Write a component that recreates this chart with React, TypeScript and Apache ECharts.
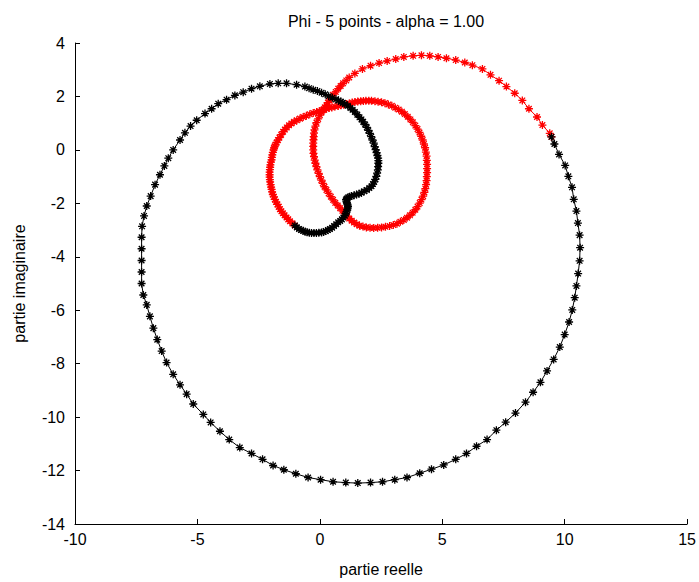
import React, { useEffect, useRef } from "react";
import * as echarts from "echarts";

const TITLE = "Phi - 5 points - alpha = 1.00";
const X_NAME = "partie reelle";
const Y_NAME = "partie imaginaire";
const X_MIN = -10, X_MAX = 15, X_STEP = 5;
const Y_MIN = -14, Y_MAX = 4, Y_STEP = 2;

// red part of the curve: left loop, top band, right loop, big upper arc
const redCurve: [number, number][] = [
  [-1.02,-2.83],[-1.12,-2.75],[-1.22,-2.67],[-1.29,-2.60],[-1.36,-2.53],[-1.44,-2.45],[-1.51,-2.37],[-1.57,-2.30],
  [-1.63,-2.22],[-1.68,-2.13],[-1.73,-2.04],[-1.79,-1.95],[-1.84,-1.85],[-1.88,-1.76],[-1.92,-1.67],[-1.95,-1.57],
  [-1.97,-1.48],[-1.99,-1.39],[-2.01,-1.30],[-2.03,-1.20],[-2.04,-1.11],[-2.05,-1.02],[-2.05,-0.93],[-2.05,-0.83],
  [-2.04,-0.74],[-2.03,-0.65],[-2.02,-0.56],[-2.00,-0.46],[-1.97,-0.37],[-1.96,-0.28],[-1.94,-0.19],[-1.92,-0.09],
  [-1.89,0.00],[-1.87,0.07],[-1.84,0.14],[-1.81,0.20],[-1.77,0.27],[-1.71,0.37],[-1.65,0.46],[-1.58,0.57],
  [-1.50,0.68],[-1.43,0.76],[-1.35,0.84],[-1.26,0.92],[-1.16,0.99],[-1.05,1.05],[-0.94,1.11],[-0.81,1.17],
  [-0.68,1.23],[-0.55,1.28],[-0.41,1.33],[-0.27,1.38],[-0.13,1.42],[-0.02,1.45],[0.08,1.48],[0.18,1.51],
  [0.27,1.54],[0.38,1.57],[0.49,1.59],[0.62,1.62],[0.75,1.64],[0.87,1.67],[0.98,1.69],[1.09,1.72],[1.20,1.74],
  [1.32,1.77],[1.43,1.79],[1.55,1.81],[1.67,1.82],[1.78,1.83],[1.88,1.84],[2.00,1.84],[2.11,1.84],[2.25,1.82],
  [2.38,1.80],[2.52,1.78],[2.66,1.75],[2.80,1.70],[2.94,1.65],[3.08,1.58],[3.22,1.51],[3.35,1.43],[3.47,1.34],
  [3.59,1.24],[3.70,1.14],[3.80,1.03],[3.90,0.91],[3.99,0.78],[4.07,0.65],[4.14,0.51],[4.20,0.37],[4.25,0.22],
  [4.30,0.08],[4.33,-0.08],[4.36,-0.23],[4.37,-0.39],[4.38,-0.54],[4.38,-0.70],[4.38,-0.85],[4.37,-1.00],
  [4.36,-1.15],[4.34,-1.30],[4.31,-1.45],[4.27,-1.59],[4.22,-1.73],[4.15,-1.86],[4.08,-1.99],[3.99,-2.12],
  [3.90,-2.24],[3.79,-2.35],[3.68,-2.45],[3.56,-2.54],[3.43,-2.62],[3.29,-2.69],[3.15,-2.76],[3.00,-2.81],
  [2.85,-2.85],[2.68,-2.88],[2.52,-2.90],[2.36,-2.91],[2.20,-2.92],[2.05,-2.91],[1.90,-2.90],[1.76,-2.87],
  [1.62,-2.84],[1.51,-2.78],[1.40,-2.72],[1.30,-2.65],[1.20,-2.57],[1.11,-2.48],[1.02,-2.38],[0.92,-2.28],
  [0.83,-2.18],[0.73,-2.08],[0.63,-1.98],[0.54,-1.87],[0.45,-1.75],[0.36,-1.63],[0.27,-1.50],[0.19,-1.38],
  [0.12,-1.25],[0.06,-1.13],[0.00,-1.00],[-0.05,-0.88],[-0.10,-0.75],[-0.14,-0.63],[-0.18,-0.50],[-0.21,-0.38],
  [-0.24,-0.25],[-0.26,-0.13],[-0.27,0.00],[-0.27,0.13],[-0.27,0.25],[-0.26,0.38],[-0.25,0.50],[-0.24,0.63],
  [-0.22,0.75],[-0.18,0.89],[-0.14,1.02],[-0.07,1.16],[0.00,1.30],[0.07,1.40],[0.14,1.50],[0.20,1.59],
  [0.27,1.67],[0.33,1.77],[0.40,1.86],[0.47,1.96],[0.54,2.06],[0.65,2.17],[0.75,2.29],[0.85,2.39],[0.95,2.49],
  [1.08,2.60],[1.20,2.71],[1.43,2.86],[1.74,3.03],[2.07,3.15],[2.42,3.25],[2.75,3.33],[3.10,3.40],[3.43,3.48],
  [3.81,3.52],[4.15,3.54],[4.49,3.52],[4.83,3.48],[5.17,3.43],[5.55,3.36],[5.92,3.27],[6.23,3.17],[6.64,3.03],
  [6.97,2.81],[7.32,2.59],[7.62,2.37],[7.96,2.12],[8.27,1.85],[8.54,1.54],[8.87,1.23],[9.09,0.93],[9.39,0.62],
  [9.46,0.49]
];

// black part of the curve: big loop, inner arc and knot
const blackCurve: [number, number][] = [
  [9.46,0.49],[9.58,0.22],[9.77,-0.17],[10.02,-0.58],[10.15,-0.99],[10.30,-1.40],[10.37,-1.85],[10.48,-2.29],
  [10.54,-2.74],[10.61,-3.19],[10.63,-3.66],[10.61,-4.15],[10.55,-4.63],[10.48,-5.09],[10.41,-5.53],[10.31,-5.99],
  [10.18,-6.44],[10.00,-6.91],[9.80,-7.38],[9.55,-7.84],[9.28,-8.27],[9.01,-8.70],[8.71,-9.07],[8.40,-9.44],
  [7.99,-9.85],[7.59,-10.19],[7.21,-10.49],[6.83,-10.84],[6.40,-11.09],[5.99,-11.36],[5.55,-11.58],[5.06,-11.79],
  [4.56,-11.95],[4.08,-12.10],[3.56,-12.26],[3.06,-12.34],[2.56,-12.42],[2.07,-12.45],[1.55,-12.47],[1.06,-12.45],
  [0.54,-12.42],[0.03,-12.34],[-0.48,-12.26],[-0.98,-12.12],[-1.47,-11.97],[-1.91,-11.81],[-2.34,-11.58],
  [-2.79,-11.36],[-3.27,-11.14],[-3.70,-10.84],[-4.08,-10.53],[-4.46,-10.20],[-4.76,-9.90],[-5.17,-9.51],
  [-5.44,-9.14],[-5.71,-8.79],[-5.99,-8.40],[-6.26,-7.96],[-6.46,-7.53],[-6.64,-7.10],[-6.80,-6.67],[-6.94,-6.23],
  [-7.07,-5.80],[-7.21,-5.43],[-7.28,-5.00],[-7.28,-4.57],[-7.28,-4.14],[-7.28,-3.70],[-7.28,-3.27],[-7.26,-2.86],
  [-7.18,-2.47],[-7.07,-2.10],[-6.91,-1.73],[-6.73,-1.30],[-6.53,-0.93],[-6.35,-0.60],[-6.19,-0.31],[-5.99,0.00],
  [-5.71,0.37],[-5.51,0.64],[-5.28,0.89],[-5.03,1.11],[-4.69,1.36],[-4.42,1.54],[-4.15,1.73],[-3.81,1.88],
  [-3.47,2.04],[-3.13,2.16],[-2.79,2.29],[-2.45,2.38],[-2.04,2.47],[-1.70,2.49],[-1.36,2.49],[-0.95,2.44],
  [-0.61,2.37],[-0.44,2.31],[-0.27,2.25],[-0.10,2.20],[0.07,2.14],[0.22,2.08],[0.36,2.01],[0.51,1.95],[0.66,1.89],
  [0.76,1.85],[0.86,1.80],[0.94,1.76],[1.02,1.72],[1.14,1.65],[1.25,1.57],[1.34,1.50],[1.43,1.42],[1.53,1.32],
  [1.62,1.22],[1.70,1.14],[1.77,1.05],[1.85,0.95],[1.92,0.84],[1.98,0.73],[2.04,0.62],[2.10,0.50],[2.15,0.37],
  [2.20,0.25],[2.24,0.12],[2.28,0.01],[2.32,-0.10],[2.35,-0.21],[2.38,-0.31],[2.39,-0.40],[2.39,-0.50],
  [2.38,-0.63],[2.37,-0.75],[2.34,-0.87],[2.31,-0.99],[2.27,-1.10],[2.22,-1.20],[2.17,-1.28],[2.11,-1.36],
  [2.02,-1.43],[1.92,-1.50],[1.81,-1.55],[1.70,-1.60],[1.60,-1.64],[1.50,-1.67],[1.40,-1.70],[1.29,-1.73],
  [1.22,-1.75],[1.15,-1.78],[1.10,-1.82],[1.07,-1.86],[1.08,-1.92],[1.10,-1.97],[1.12,-2.02],[1.14,-2.07],
  [1.15,-2.12],[1.14,-2.18],[1.12,-2.25],[1.09,-2.32],[1.06,-2.39],[1.02,-2.46],[0.96,-2.53],[0.90,-2.60],
  [0.83,-2.66],[0.75,-2.71],[0.67,-2.78],[0.58,-2.85],[0.50,-2.91],[0.41,-2.96],[0.33,-3.00],[0.24,-3.04],
  [0.15,-3.07],[0.07,-3.09],[-0.04,-3.10],[-0.14,-3.11],[-0.24,-3.11],[-0.34,-3.11],[-0.43,-3.10],[-0.52,-3.08],
  [-0.60,-3.06],[-0.68,-3.03],[-0.77,-3.00],[-0.85,-2.96],[-0.94,-2.90],[-1.02,-2.83]
];

const FONT = "'Liberation Sans', Arial, Helvetica, sans-serif";
const STAR = "path://M0,4L8,4M4,0L4,8M1.2,1.2L6.8,6.8M6.8,1.2L1.2,6.8";

function curveSeries(name: string, data: [number, number][], color: string) {
  return {
    name,
    type: "line",
    data,
    symbol: STAR,
    symbolSize: 8,
    showSymbol: true,
    itemStyle: { color, borderColor: color, borderWidth: 1.3 },
    lineStyle: { color, width: 1 },
    silent: true,
    clip: false,
  };
}

export default function App() {
  const ref = useRef<HTMLDivElement>(null);
  useEffect(() => {
    if (!ref.current) return;
    const chart = echarts.init(ref.current, undefined, { renderer: "svg" });
    const axisCommon = {
      type: "value",
      axisLine: { show: true, onZero: false, lineStyle: { color: "#000", width: 1 } },
      axisTick: { show: true, inside: true, length: 5, lineStyle: { color: "#000", width: 1 } },
      splitLine: { show: false },
      nameLocation: "middle",
      nameTextStyle: { color: "#000", fontSize: 16, fontFamily: FONT },
    };
    chart.setOption({
      animation: false,
      backgroundColor: "#fff",
      title: {
        text: TITLE,
        left: 381,
        top: 8,
        textAlign: "center",
        textStyle: { fontFamily: FONT, fontSize: 16, fontWeight: "normal", color: "#000" },
      },
      grid: { left: 75, right: 11, top: 43, bottom: 53, containLabel: false },
      xAxis: {
        ...axisCommon,
        min: X_MIN,
        max: X_MAX,
        interval: X_STEP,
        name: X_NAME,
        nameGap: 37,
        axisLabel: { color: "#000", fontSize: 16, margin: 7, fontFamily: FONT },
      },
      yAxis: {
        ...axisCommon,
        min: Y_MIN,
        max: Y_MAX,
        interval: Y_STEP,
        name: Y_NAME,
        nameGap: 48,
        axisLabel: { color: "#000", fontSize: 16, margin: 10, fontFamily: FONT },
      },
      series: [curveSeries("red", redCurve, "#ff0000"), curveSeries("black", blackCurve, "#000000")],
    });
    return () => chart.dispose();
  }, []);
  return <div ref={ref} style={{ position: "fixed", left: 0, top: 0, width: 699, height: 582 }} />;
}
